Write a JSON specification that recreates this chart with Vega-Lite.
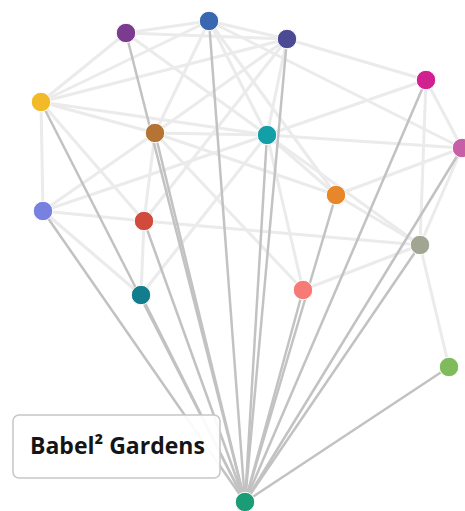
{
  "$schema": "https://vega.github.io/schema/vega-lite/v6.json",
  "width": 465,
  "height": 511,
  "autosize": {"type": "none"},
  "padding": 0,
  "background": "white",
  "config": {"view": {"stroke": null}},
  "datasets": {
    "nodes": [
      {"id": "A", "x": 126, "y": 33},
      {"id": "B", "x": 209, "y": 21},
      {"id": "C", "x": 287, "y": 39},
      {"id": "D", "x": 426, "y": 80},
      {"id": "E", "x": 462, "y": 148},
      {"id": "F", "x": 41, "y": 102},
      {"id": "G", "x": 155, "y": 133},
      {"id": "H", "x": 267, "y": 135},
      {"id": "I", "x": 336, "y": 195},
      {"id": "J", "x": 43, "y": 211},
      {"id": "K", "x": 144, "y": 221},
      {"id": "L", "x": 420, "y": 245},
      {"id": "M", "x": 141, "y": 295},
      {"id": "N", "x": 303, "y": 290},
      {"id": "O", "x": 449, "y": 367},
      {"id": "P", "x": 245, "y": 502}
    ],
    "annotation": [
      {"label": "Babel² Gardens", "x": 13, "x2": 220, "y": 415, "y2": 478, "tx": 30, "ty": 447}
    ],
    "links": [
      {"edge": "A-B", "kind": "light", "node": "A"}, {"edge": "A-B", "kind": "light", "node": "B"},
      {"edge": "A-C", "kind": "light", "node": "A"}, {"edge": "A-C", "kind": "light", "node": "C"},
      {"edge": "A-F", "kind": "light", "node": "A"}, {"edge": "A-F", "kind": "light", "node": "F"},
      {"edge": "A-H", "kind": "light", "node": "A"}, {"edge": "A-H", "kind": "light", "node": "H"},
      {"edge": "B-C", "kind": "light", "node": "B"}, {"edge": "B-C", "kind": "light", "node": "C"},
      {"edge": "B-F", "kind": "light", "node": "B"}, {"edge": "B-F", "kind": "light", "node": "F"},
      {"edge": "B-G", "kind": "light", "node": "B"}, {"edge": "B-G", "kind": "light", "node": "G"},
      {"edge": "B-H", "kind": "light", "node": "B"}, {"edge": "B-H", "kind": "light", "node": "H"},
      {"edge": "B-I", "kind": "light", "node": "B"}, {"edge": "B-I", "kind": "light", "node": "I"},
      {"edge": "B-E", "kind": "light", "node": "B"}, {"edge": "B-E", "kind": "light", "node": "E"},
      {"edge": "C-D", "kind": "light", "node": "C"}, {"edge": "C-D", "kind": "light", "node": "D"},
      {"edge": "C-G", "kind": "light", "node": "C"}, {"edge": "C-G", "kind": "light", "node": "G"},
      {"edge": "C-K", "kind": "light", "node": "C"}, {"edge": "C-K", "kind": "light", "node": "K"},
      {"edge": "C-H", "kind": "light", "node": "C"}, {"edge": "C-H", "kind": "light", "node": "H"},
      {"edge": "C-F", "kind": "light", "node": "C"}, {"edge": "C-F", "kind": "light", "node": "F"},
      {"edge": "D-H", "kind": "light", "node": "D"}, {"edge": "D-H", "kind": "light", "node": "H"},
      {"edge": "D-E", "kind": "light", "node": "D"}, {"edge": "D-E", "kind": "light", "node": "E"},
      {"edge": "D-L", "kind": "light", "node": "D"}, {"edge": "D-L", "kind": "light", "node": "L"},
      {"edge": "E-H", "kind": "light", "node": "E"}, {"edge": "E-H", "kind": "light", "node": "H"},
      {"edge": "E-I", "kind": "light", "node": "E"}, {"edge": "E-I", "kind": "light", "node": "I"},
      {"edge": "E-L", "kind": "light", "node": "E"}, {"edge": "E-L", "kind": "light", "node": "L"},
      {"edge": "F-G", "kind": "light", "node": "F"}, {"edge": "F-G", "kind": "light", "node": "G"},
      {"edge": "F-H", "kind": "light", "node": "F"}, {"edge": "F-H", "kind": "light", "node": "H"},
      {"edge": "F-J", "kind": "light", "node": "F"}, {"edge": "F-J", "kind": "light", "node": "J"},
      {"edge": "F-K", "kind": "light", "node": "F"}, {"edge": "F-K", "kind": "light", "node": "K"},
      {"edge": "G-H", "kind": "light", "node": "G"}, {"edge": "G-H", "kind": "light", "node": "H"},
      {"edge": "G-I", "kind": "light", "node": "G"}, {"edge": "G-I", "kind": "light", "node": "I"},
      {"edge": "G-J", "kind": "light", "node": "G"}, {"edge": "G-J", "kind": "light", "node": "J"},
      {"edge": "G-K", "kind": "light", "node": "G"}, {"edge": "G-K", "kind": "light", "node": "K"},
      {"edge": "G-N", "kind": "light", "node": "G"}, {"edge": "G-N", "kind": "light", "node": "N"},
      {"edge": "H-I", "kind": "light", "node": "H"}, {"edge": "H-I", "kind": "light", "node": "I"},
      {"edge": "H-L", "kind": "light", "node": "H"}, {"edge": "H-L", "kind": "light", "node": "L"},
      {"edge": "H-N", "kind": "light", "node": "H"}, {"edge": "H-N", "kind": "light", "node": "N"},
      {"edge": "H-J", "kind": "light", "node": "H"}, {"edge": "H-J", "kind": "light", "node": "J"},
      {"edge": "H-M", "kind": "light", "node": "H"}, {"edge": "H-M", "kind": "light", "node": "M"},
      {"edge": "I-L", "kind": "light", "node": "I"}, {"edge": "I-L", "kind": "light", "node": "L"},
      {"edge": "J-K", "kind": "light", "node": "J"}, {"edge": "J-K", "kind": "light", "node": "K"},
      {"edge": "J-M", "kind": "light", "node": "J"}, {"edge": "J-M", "kind": "light", "node": "M"},
      {"edge": "K-M", "kind": "light", "node": "K"}, {"edge": "K-M", "kind": "light", "node": "M"},
      {"edge": "K-L", "kind": "light", "node": "K"}, {"edge": "K-L", "kind": "light", "node": "L"},
      {"edge": "L-N", "kind": "light", "node": "L"}, {"edge": "L-N", "kind": "light", "node": "N"},
      {"edge": "L-O", "kind": "light", "node": "L"}, {"edge": "L-O", "kind": "light", "node": "O"},
      {"edge": "P-A", "kind": "hub", "node": "P"}, {"edge": "P-A", "kind": "hub", "node": "A"},
      {"edge": "P-B", "kind": "hub", "node": "P"}, {"edge": "P-B", "kind": "hub", "node": "B"},
      {"edge": "P-C", "kind": "hub", "node": "P"}, {"edge": "P-C", "kind": "hub", "node": "C"},
      {"edge": "P-D", "kind": "hub", "node": "P"}, {"edge": "P-D", "kind": "hub", "node": "D"},
      {"edge": "P-E", "kind": "hub", "node": "P"}, {"edge": "P-E", "kind": "hub", "node": "E"},
      {"edge": "P-F", "kind": "hub", "node": "P"}, {"edge": "P-F", "kind": "hub", "node": "F"},
      {"edge": "P-G", "kind": "hub", "node": "P"}, {"edge": "P-G", "kind": "hub", "node": "G"},
      {"edge": "P-H", "kind": "hub", "node": "P"}, {"edge": "P-H", "kind": "hub", "node": "H"},
      {"edge": "P-I", "kind": "hub", "node": "P"}, {"edge": "P-I", "kind": "hub", "node": "I"},
      {"edge": "P-J", "kind": "hub", "node": "P"}, {"edge": "P-J", "kind": "hub", "node": "J"},
      {"edge": "P-K", "kind": "hub", "node": "P"}, {"edge": "P-K", "kind": "hub", "node": "K"},
      {"edge": "P-L", "kind": "hub", "node": "P"}, {"edge": "P-L", "kind": "hub", "node": "L"},
      {"edge": "P-M", "kind": "hub", "node": "P"}, {"edge": "P-M", "kind": "hub", "node": "M"},
      {"edge": "P-N", "kind": "hub", "node": "P"}, {"edge": "P-N", "kind": "hub", "node": "N"},
      {"edge": "P-O", "kind": "hub", "node": "P"}, {"edge": "P-O", "kind": "hub", "node": "O"}
    ]
  },
  "encoding": {
    "x": {"field": "x", "type": "quantitative", "scale": {"domain": [0, 465], "nice": false, "zero": false}, "axis": null},
    "y": {"field": "y", "type": "quantitative", "scale": {"domain": [0, 511], "nice": false, "zero": false, "reverse": true}, "axis": null}
  },
  "layer": [
    {
      "data": {"name": "links"},
      "transform": [
        {"filter": "datum.kind === 'light'"},
        {"lookup": "node", "from": {"data": {"name": "nodes"}, "key": "id", "fields": ["x", "y"]}}
      ],
      "mark": {"type": "line", "stroke": "#ebebeb", "strokeWidth": 3},
      "encoding": {"detail": {"field": "edge"}}
    },
    {
      "data": {"name": "links"},
      "transform": [
        {"filter": "datum.kind === 'hub'"},
        {"lookup": "node", "from": {"data": {"name": "nodes"}, "key": "id", "fields": ["x", "y"]}}
      ],
      "mark": {"type": "line", "stroke": "#c2c2c2", "strokeWidth": 2.5},
      "encoding": {"detail": {"field": "edge"}}
    },
    {
      "data": {"name": "nodes"},
      "mark": {"type": "circle", "size": 380, "opacity": 1, "stroke": "white", "strokeWidth": 1},
      "encoding": {
        "color": {
          "field": "id",
          "type": "nominal",
          "legend": null,
          "scale": {
            "domain": ["A", "B", "C", "D", "E", "F", "G", "H", "I", "J", "K", "L", "M", "N", "O", "P"],
            "range": ["#7b3b8f", "#3a68b0", "#4b4a93", "#d1208f", "#c75fa7", "#f2b929", "#b57434", "#129fa7", "#e8862a", "#7880e0", "#d14b3c", "#a0a691", "#127e8d", "#f67b76", "#7fbb5b", "#1a9c76"]
          }
        }
      }
    },
    {
      "data": {"name": "annotation"},
      "mark": {"type": "rect", "fill": "white", "fillOpacity": 0.92, "stroke": "#c6c6c6", "strokeWidth": 1.5, "cornerRadius": 6},
      "encoding": {
        "x2": {"field": "x2"},
        "y2": {"field": "y2"}
      }
    },
    {
      "data": {"name": "annotation"},
      "mark": {"type": "text", "align": "left", "baseline": "middle", "font": "Open Sans", "fontSize": 23, "fontWeight": "bold", "color": "#151515"},
      "encoding": {
        "x": {"field": "tx", "type": "quantitative"},
        "y": {"field": "ty", "type": "quantitative"},
        "text": {"field": "label"}
      }
    }
  ]
}
